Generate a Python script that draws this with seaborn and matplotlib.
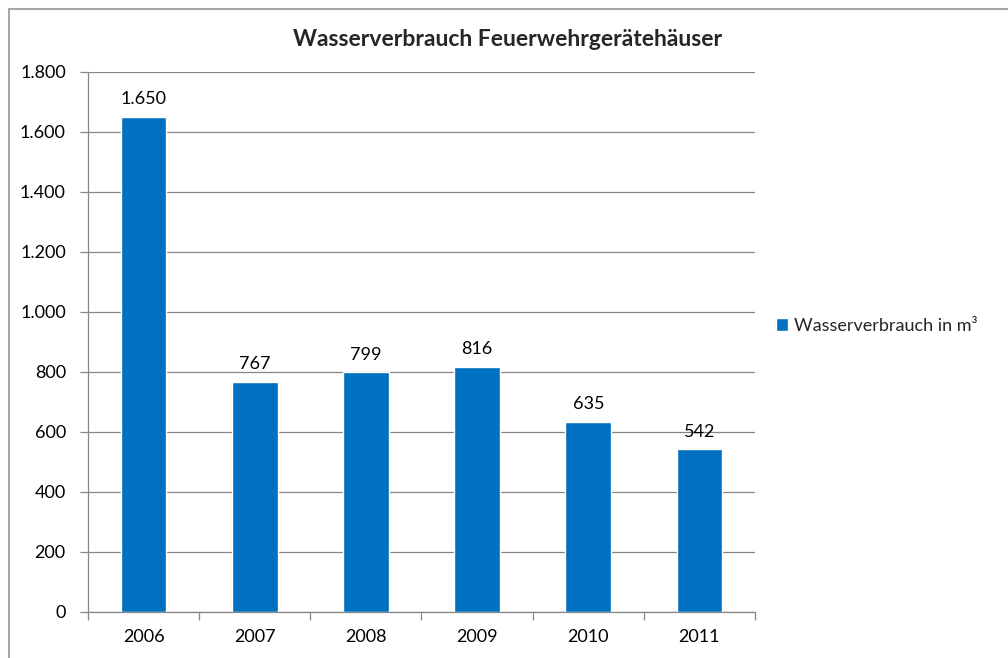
import matplotlib
matplotlib.use("Agg")
import matplotlib.pyplot as plt
import numpy as np
import pandas as pd
import seaborn as sns
from matplotlib.patches import Rectangle
from matplotlib.ticker import FixedLocator, FuncFormatter

years = ["2006", "2007", "2008", "2009", "2010", "2011"]
consumption = [1650, 767, 799, 816, 635, 542]
series_name = "Wasserverbrauch in m³"
title = "Wasserverbrauch Feuerwehrgerätehäuser"

BLUE = "#0070C0"
GRID = "#868686"

sns.set_theme(style="white")
plt.rcParams["font.family"] = ["Lato", "DejaVu Sans"]


def de_format(v, _pos=None):
    return f"{int(round(v)):,}".replace(",", ".")


df = pd.DataFrame({"Jahr": years, "Wert": consumption, "Serie": series_name})

fig = plt.figure(figsize=(10.08, 6.58), dpi=100)
ax = fig.add_axes([88 / 1008, 1 - 612 / 658, (755 - 88) / 1008, (612 - 72) / 658])

sns.barplot(data=df, x="Jahr", y="Wert", hue="Serie", palette=[BLUE],
            width=0.41, saturation=1, ax=ax)

ax.set_ylim(0, 1800)
ax.set_xlim(-0.5, len(years) - 0.5)
ax.set_yticks(np.arange(0, 1801, 200))
ax.yaxis.set_major_formatter(FuncFormatter(de_format))
ax.yaxis.grid(True, color=GRID, linewidth=0.9)
ax.set_axisbelow(True)

# category separators as ticks on the x axis
ax.xaxis.set_minor_locator(FixedLocator(np.arange(-0.5, len(years), 1.0)))
ax.tick_params(axis="x", which="major", length=0, pad=12, labelsize=13, colors="black")
ax.tick_params(axis="x", which="minor", bottom=True, length=6, width=0.9, color=GRID)
ax.tick_params(axis="y", left=True, length=6, width=0.9, color=GRID, pad=10,
               labelsize=13, colors="black")

for side in ["top", "right"]:
    ax.spines[side].set_visible(False)
for side in ["left", "bottom"]:
    ax.spines[side].set_color(GRID)
    ax.spines[side].set_linewidth(0.9)

ax.set_xlabel("")
ax.set_ylabel("")

for cont in ax.containers:
    ax.bar_label(cont, labels=[de_format(v) for v in consumption], padding=7,
                 fontsize=13, color="black")

leg = ax.legend(loc="center left", bbox_to_anchor=(1.02, 0.53), frameon=False,
                fontsize=13, handlelength=0.7, handleheight=0.7, handletextpad=0.3,
                borderaxespad=0)

fig.text(0.504, 1 - 40 / 658, title, ha="center", va="center",
         fontsize=16.5, fontweight="bold")

# outer chart border (cropped at right and bottom)
fig.patches.append(Rectangle((8.5 / 1008, -0.1), 1.2, 0.1 + 1 - 9.5 / 658,
                             transform=fig.transFigure, fill=False,
                             edgecolor="#A6A6A6", linewidth=1.5))

fig.savefig("out.png", dpi=100)
